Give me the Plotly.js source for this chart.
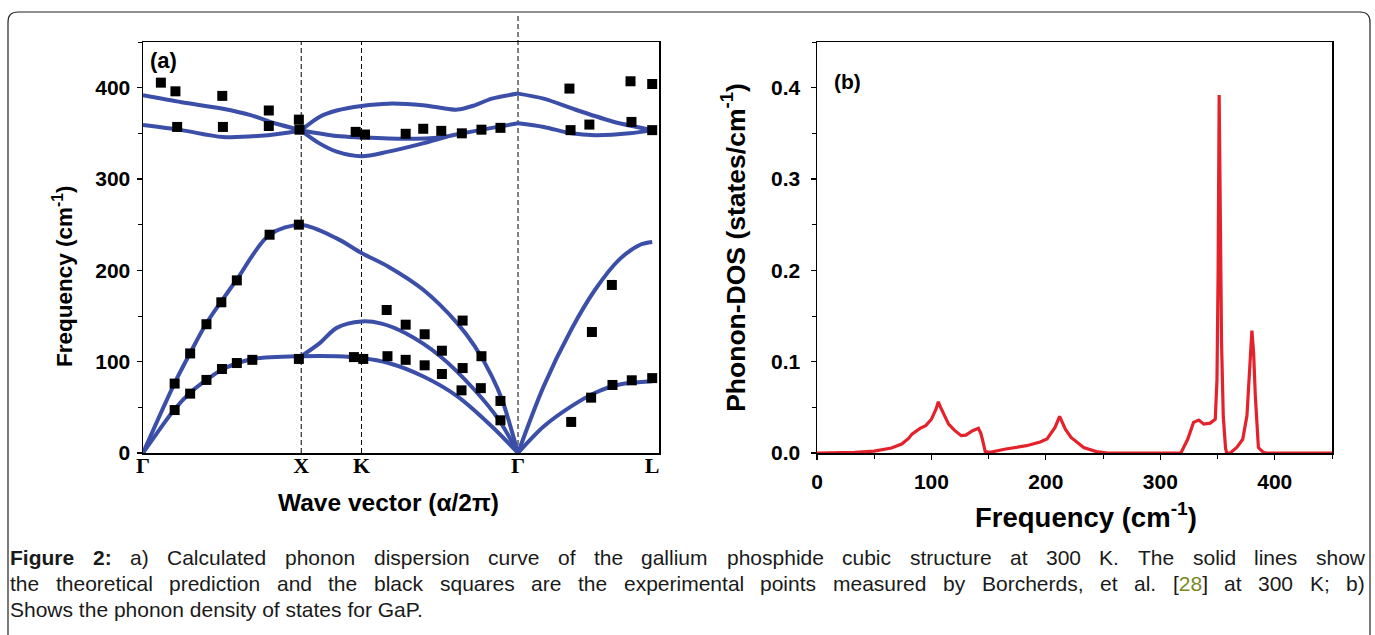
<!DOCTYPE html>
<html>
<head>
<meta charset="utf-8">
<script src="https://cdn.plot.ly/plotly-3.0.1.min.js"></script>
<style>
html,body{margin:0;padding:0;background:#fff;}
#chart{width:1375px;height:635px;}
</style>
</head>
<body>
<div id="chart"></div>
<script>
// ---------- Panel (a): high-symmetry points ----------
const symLabels = ["Γ", "X", "K", "Γ", "L"];
const symPos = [0, 1.0, 1.381, 2.37, 3.218];

// ---------- Panel (a): calculated dispersion branches (q, frequency cm-1) ----------
const optUpperGX_q = [0, 0.244, 0.505, 0.680, 0.832, 1.0];
const optUpperGX_f = [391.6, 384, 377, 370, 361, 353.5];
const optLowerGX_q = [0, 0.244, 0.505, 0.789, 1.0];
const optLowerGX_f = [359, 353.5, 346, 348, 353];
const optUpperXG_q = [1.0, 1.115, 1.224, 1.381, 1.551, 1.769, 1.878, 1.987, 2.096, 2.205, 2.37];
const optUpperXG_f = [353.5, 368, 375, 380, 382.5, 380.7, 378, 376, 380.7, 388, 393.5];
const optMiddleXG_q = [1.0, 1.224, 1.381, 1.660, 1.878, 1.987, 2.205, 2.37];
const optMiddleXG_f = [353, 347, 345.5, 344, 345.5, 349, 356, 361];
const optLowerXK_q = [1.0, 1.115, 1.224, 1.381, 1.551, 1.769, 1.922];
const optLowerXK_f = [353, 339, 330, 325, 330, 339, 346.5];
const optUpperGL_q = [2.37, 2.532, 2.749, 2.967, 3.120, 3.218];
const optUpperGL_f = [393.5, 388, 375, 363, 357, 353.5];
const optLowerGL_q = [2.37, 2.532, 2.706, 2.858, 3.076, 3.218];
const optLowerGL_f = [361, 357, 350, 348, 350, 353.5];

const laGXG_q = [0, 0.200, 0.298, 0.401, 0.495, 0.593, 0.800, 1.0, 1.224, 1.381, 1.551, 1.769, 1.987, 2.096, 2.205, 2.270, 2.37];
const laGXG_f = [0, 76.6, 109.5, 142, 166, 190, 239, 249.6, 235, 219, 204, 179, 142, 117, 84, 58, 0];
const taLowGXG_q = [0, 0.200, 0.298, 0.401, 0.495, 0.593, 0.691, 1.0, 1.224, 1.381, 1.551, 1.769, 1.987, 2.205, 2.37];
const taLowGXG_f = [0, 48, 66, 80, 91, 98, 103, 106, 106, 104, 98.5, 84, 62, 29, 0];
const taUpXG_q = [1.0, 1.115, 1.224, 1.381, 1.508, 1.660, 1.878, 2.096, 2.248, 2.37];
const taUpXG_f = [106, 120, 137, 144, 141.6, 131, 106, 69, 36.5, 0];
const laGL_q = [2.37, 2.532, 2.706, 2.858, 3.011, 3.142, 3.218];
const laGL_f = [0, 73, 135, 179, 212, 228, 231];
const taGL_q = [2.37, 2.532, 2.706, 2.858, 3.011, 3.218];
const taGL_f = [0, 29, 51, 66, 75, 78.5];

// ---------- Panel (a): experimental points (Borcherds et al.) ----------
const expQ = [0.200, 0.298, 0.401, 0.495, 0.593, 0.800, 0.985,
  0.200, 0.298, 0.401, 0.499, 0.593, 0.691, 0.985,
  1.333, 1.392, 1.540, 1.660, 1.780, 1.889, 2.020, 2.139,
  1.545, 1.660, 1.780, 1.889, 2.020, 2.013, 2.135, 2.259, 2.259,
  2.706, 2.837, 2.832, 2.963, 2.967, 3.089, 3.218,
  0.113, 0.205, 0.216, 0.501, 0.505, 0.795, 0.795, 0.985, 0.989,
  1.344, 1.403, 1.660, 1.771, 1.885, 2.015, 2.139, 2.259,
  2.695, 2.702, 2.821, 3.081, 3.087, 3.218, 3.218];
const expF = [76, 109, 141, 165, 189, 239, 250,
  47, 65, 80, 92, 98.5, 102, 103,
  105, 103, 156.6, 140.5, 130, 112, 145, 106,
  106, 102, 96, 86.5, 93, 68.6, 71, 57, 35.8,
  34, 132.5, 60.6, 184, 74.5, 79.6, 82,
  405.5, 396, 357, 391, 357, 375, 358, 365, 354,
  351.6, 348.7, 349.5, 355, 352.7, 350, 354, 356,
  399, 353.5, 359.6, 407, 362.5, 404, 353.5];

// ---------- Panel (b): phonon density of states ----------
const dosFreq = [0, 20, 33, 50, 65, 74, 80, 83, 90, 95, 100, 104, 106, 108, 111, 115, 120, 126, 130, 136, 141, 143, 144.5, 147, 151,
  165, 183, 195, 201, 208, 212, 214, 217, 222, 233, 244, 254, 318, 324, 329, 333.6, 338, 343.6, 348, 349.5, 350.5, 351.4, 352.5,
  353.5, 355, 357, 358, 361, 366.8, 372, 375.7, 378, 380, 381.5, 383, 385.7, 390, 393, 450];
const dosVal = [0, 0, 0.0007, 0.002, 0.0055, 0.0098, 0.016, 0.0207, 0.027, 0.030, 0.037, 0.048, 0.056, 0.050, 0.0425, 0.0316, 0.025, 0.019, 0.0196, 0.0244, 0.027, 0.022, 0.0153, 0.0015, 0.0007,
  0.0044, 0.008, 0.012, 0.0153, 0.028, 0.040, 0.034, 0.026, 0.017, 0.006, 0.0015, 0, 0, 0.0153, 0.0335, 0.036, 0.0316, 0.0327, 0.037, 0.08, 0.2, 0.392, 0.25,
  0.12, 0.04, 0.005, 0, 0, 0.006, 0.015, 0.041, 0.10, 0.134, 0.11, 0.0625, 0.006, 0.0007, 0, 0];

// ---------- Texts ----------
const titleA_x = "Wave vector (α/2π)";
const titleA_y = "Frequency (cm<sup>-1</sup>)";
const titleB_x = "Frequency (cm<sup>-1</sup>)";
const titleB_y = "Phonon-DOS (states/cm<sup>-1</sup>)";
const captionLine1 = "Figure 2: a) Calculated phonon dispersion curve of the gallium phosphide cubic structure at 300 K. The solid lines show";
const captionLine2 = "the theoretical prediction and the black squares are the experimental points measured by Borcherds, et al. [28] at 300 K; b)";
const captionLine3 = "Shows the phonon density of states for GaP.";

// ---------- helpers (pixel -> paper) ----------
const W = 1375, H = 635;
const PX = x => x / W;
const PY = y => 1 - y / H;

const BLUE = '#3b4fa8';
const RED = '#e3222b';
const branchList = [
  [optUpperGX_q, optUpperGX_f], [optLowerGX_q, optLowerGX_f],
  [optUpperXG_q, optUpperXG_f], [optMiddleXG_q, optMiddleXG_f], [optLowerXK_q, optLowerXK_f],
  [optUpperGL_q, optUpperGL_f], [optLowerGL_q, optLowerGL_f],
  [laGXG_q, laGXG_f], [taLowGXG_q, taLowGXG_f], [taUpXG_q, taUpXG_f],
  [laGL_q, laGL_f], [taGL_q, taGL_f]
];
const traces = branchList.map(b => ({
  x: b[0], y: b[1], type: 'scatter', mode: 'lines', xaxis: 'x', yaxis: 'y',
  line: {color: BLUE, width: 4, shape: 'spline', smoothing: 0.9},
  hoverinfo: 'skip', showlegend: false
}));
traces.push({
  x: expQ, y: expF, type: 'scatter', mode: 'markers', xaxis: 'x', yaxis: 'y',
  marker: {symbol: 'square', size: 10, color: '#000'}, showlegend: false
});
traces.push({
  x: dosFreq, y: dosVal, type: 'scatter', mode: 'lines', xaxis: 'x2', yaxis: 'y2',
  line: {color: RED, width: 3.2}, showlegend: false
});

const SANS = 'Liberation Sans, Arial, sans-serif';
const tickFont = {family: SANS, size: 21, color: '#000', weight: 'bold'};
const boldFont = s => ({family: SANS, size: s, color: '#000', weight: 'bold'});
const ann = (x, y, text, size, extra) => Object.assign({
  xref: 'paper', yref: 'paper', x: PX(x), y: PY(y), text: text, showarrow: false,
  font: boldFont(size), xanchor: 'center', yanchor: 'middle'
}, extra || {});

const annotations = [
  ann(163, 60, "(a)", 22), ann(848, 81, "(b)", 21),
  ann(388, 503, titleA_x, 24.5),
  ann(63, 276, titleA_y, 22.5, {textangle: -90}),
  ann(1086, 515, titleB_x, 27.5)
];

// justified caption: measure words, spread them from left to right edge
const CAP_SIZE = 21, CAP_L = 10, CAP_R = 1365;
const cv = document.createElement('canvas').getContext('2d');
const measure = (t, bold) => { cv.font = (bold ? 'bold ' : '') + CAP_SIZE + "px 'Liberation Sans'"; return cv.measureText(t).width; };
function captionWords(line, boldCount) {
  return line.split(' ').map((w, i) => {
    const bold = i < boldCount;
    let html = w;
    if (w === '[28]') html = "[<span style='color:#7b8a1e'>28</span>]";
    if (bold) html = '<b>' + w + '</b>';
    return {w: w, html: html, bold: bold};
  });
}
const capFont = {family: 'Liberation Sans, Arial, sans-serif', size: CAP_SIZE, color: '#1a1a1a'};
function addJustified(words, yPix) {
  const widths = words.map(o => measure(o.w, o.bold));
  const total = widths.reduce((a, b) => a + b, 0);
  const gap = (CAP_R - CAP_L - total) / (words.length - 1);
  let x = CAP_L;
  words.forEach((o, i) => {
    annotations.push({xref: 'paper', yref: 'paper', x: PX(x - 1), y: PY(yPix), text: o.html, showarrow: false,
      font: capFont, xanchor: 'left', yanchor: 'middle', borderpad: 0});
    x += widths[i] + gap;
  });
}
addJustified(captionWords(captionLine1, 2), 557);
addJustified(captionWords(captionLine2, 0), 583);
annotations.push({xref: 'paper', yref: 'paper', x: PX(CAP_L - 1), y: PY(609), text: captionLine3, showarrow: false,
  font: capFont, xanchor: 'left', yanchor: 'middle', borderpad: 0});

const dashLine = (q, yTop) => ({
  type: 'line', xref: 'x', yref: 'paper', x0: q, x1: q, y0: PY(453), y1: PY(yTop),
  line: {color: '#000', width: 1, dash: '5px,3px'}, layer: 'below'
});
const r = 10;
const borderPath = `M ${PX(8)} ${PY(650)} L ${PX(8)} ${PY(12 + r)} Q ${PX(8)} ${PY(12)} ${PX(8 + r)} ${PY(12)} ` +
  `L ${PX(1370 - r)} ${PY(12)} Q ${PX(1370)} ${PY(12)} ${PX(1370)} ${PY(12 + r)} L ${PX(1370)} ${PY(650)}`;

const layout = {
  width: W, height: H,
  margin: {l: 0, r: 0, t: 0, b: 0},
  paper_bgcolor: '#fff', plot_bgcolor: 'rgba(0,0,0,0)',
  showlegend: false,
  xaxis: {
    domain: [PX(143), PX(659)], range: [0, 3.261], anchor: 'y',
    tickmode: 'array', tickvals: symPos, ticktext: symLabels, ticks: '',
    tickfont: {family: 'Liberation Serif, Times New Roman, serif', size: 22, color: '#000', weight: 'bold'},
    ticklabelstandoff: -8,
    showgrid: false, zeroline: false, showline: true, mirror: true, linecolor: '#000', linewidth: 1.5
  },
  yaxis: {
    domain: [PY(453), PY(42)], range: [0, 450], anchor: 'x',
    tickvals: [0, 100, 200, 300, 400], ticks: 'outside', ticklen: 5, tickwidth: 1.2, tickcolor: '#000',
    minor: {dtick: 50, tick0: 0, ticks: 'outside', ticklen: 4, tickcolor: '#000', tickwidth: 1},
    tickfont: tickFont, ticklabelstandoff: 2,
    showgrid: false, zeroline: false, showline: true, mirror: true, linecolor: '#000', linewidth: 1.5
  },
  xaxis2: {
    domain: [PX(817), PX(1332)], range: [0, 450], anchor: 'y2',
    tickvals: [0, 100, 200, 300, 400], ticks: 'outside', ticklen: 5, tickwidth: 1.2, tickcolor: '#000',
    minor: {dtick: 50, tick0: 0, ticks: 'outside', ticklen: 4, tickcolor: '#000', tickwidth: 1},
    tickfont: tickFont, ticklabelstandoff: 4,
    showgrid: false, zeroline: false, showline: true, mirror: true, linecolor: '#000', linewidth: 1.5
  },
  yaxis2: {
    domain: [PY(453), PY(42)], range: [0, 0.45], anchor: 'x2',
    title: {text: titleB_y, font: boldFont(26.5), standoff: 18},
    tickvals: [0, 0.1, 0.2, 0.3, 0.4], ticktext: ['0.0', '0.1', '0.2', '0.3', '0.4'],
    ticks: 'outside', ticklen: 5, tickwidth: 1.2, tickcolor: '#000',
    minor: {dtick: 0.05, tick0: 0, ticks: 'outside', ticklen: 4, tickcolor: '#000', tickwidth: 1},
    tickfont: tickFont, ticklabelstandoff: 6,
    showgrid: false, zeroline: false, showline: true, mirror: true, linecolor: '#000', linewidth: 1.5
  },
  shapes: [
    dashLine(symPos[1], 42), dashLine(symPos[2], 42), dashLine(symPos[3], 13),
    {type: 'path', xref: 'paper', yref: 'paper', path: borderPath, line: {color: '#222', width: 1.2}, fillcolor: 'rgba(0,0,0,0)'}
  ],
  annotations: annotations
};

Plotly.newPlot('chart', traces, layout, {displayModeBar: false, staticPlot: true});
</script>
</body>
</html>
